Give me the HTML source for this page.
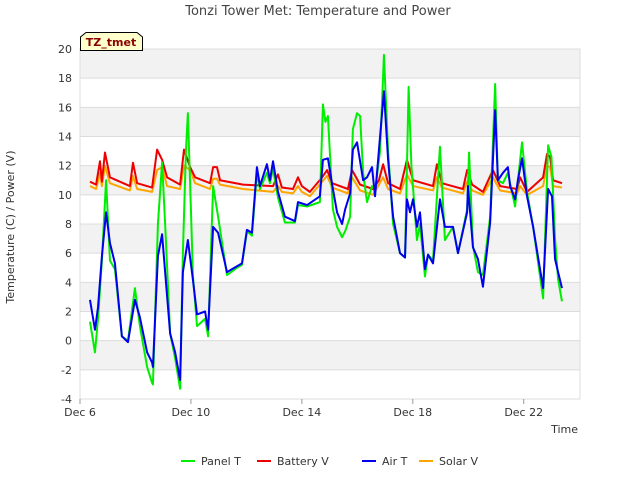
<!DOCTYPE html>
<html><head><meta charset="utf-8"><style>
body{margin:0;background:#fff;font-family:"Liberation Sans","DejaVu Sans",sans-serif;}
svg text{font-family:"DejaVu Sans","Liberation Sans",sans-serif;}
</style></head><body>
<svg id="chart" width="640" height="480" xmlns="http://www.w3.org/2000/svg">
<text x="318" y="15" text-anchor="middle" font-size="13" fill="#444">Tonzi Tower Met: Temperature and Power</text>
<g id="bands"></g><g id="grid"></g><g id="axes"></g><g id="series"></g>
<text x="14" y="227" transform="rotate(-90 14 227)" text-anchor="middle" font-size="11" fill="#333">Temperature (C) / Power (V)</text>
<text x="578" y="433" text-anchor="end" font-size="11" fill="#333">Time</text>
<g>
<path d="M80.5,50.5 L80.5,37 L86,32.5 L137,32.5 L142.5,37 L142.5,50.5 Z" fill="#ffffcc" stroke="#000" stroke-width="1"/>
<text x="111" y="46" text-anchor="middle" font-size="11" font-weight="bold" fill="#8b0000">TZ_tmet</text>
</g>
<g id="legend"></g>
</svg>
<script>
const yTicks=[-4,-2,0,2,4,6,8,10,12,14,16,18,20];
const xTickLabels=["Dec 6","Dec 10","Dec 14","Dec 18","Dec 22"];
const xTickDays=[0,4,8,12,16];
const panelT_t=[.36,.54,.65,.79,.94,1.08,1.26,1.51,1.73,1.98,2.16,2.42,2.6,2.63,2.81,2.96,3.07,3.25,3.43,3.61,3.71,3.82,3.89,4.0,4.07,4.22,4.51,4.62,4.8,4.98,5.3,5.66,5.84,6.02,6.2,6.38,6.49,6.74,6.85,6.96,7.14,7.39,7.75,7.86,8.19,8.65,8.76,8.85,8.94,9.12,9.27,9.45,9.56,9.74,9.84,9.99,10.1,10.21,10.35,10.53,10.64,10.82,10.96,11.11,11.29,11.54,11.72,11.85,11.95,12.15,12.26,12.44,12.55,12.73,12.98,13.16,13.45,13.63,13.96,14.03,14.17,14.35,14.53,14.79,14.97,15.07,15.25,15.43,15.69,15.94,16.12,16.34,16.7,16.88,17.0,17.13,17.24,17.38];
const panelT_v=[1.3,-0.8,1.5,5.5,11.0,5.5,4.9,0.3,0.0,3.6,1.0,-1.8,-2.9,-3.0,8.0,12.2,8.0,0.5,-1.2,-3.3,6.0,13.0,15.6,9.0,4.5,1.0,1.5,0.3,10.6,8.5,4.5,5.0,5.2,7.5,7.2,11.5,10.4,11.5,10.8,11.8,9.8,8.1,8.1,9.3,9.2,9.5,16.2,15.0,15.4,9.0,7.8,7.1,7.5,8.5,14.5,15.6,15.4,11.5,9.5,10.6,10.3,13.0,19.6,13.0,8.0,6.0,5.7,17.4,12.0,6.9,8.0,4.4,5.9,5.5,13.3,6.9,7.8,6.0,9.0,12.9,6.5,4.7,4.5,8.5,17.6,11.0,10.8,11.5,9.2,13.6,10.2,7.8,2.9,13.4,12.6,7.0,4.2,2.7];
const airT_t=[.36,.54,.65,.79,.94,1.08,1.26,1.51,1.73,1.98,2.16,2.42,2.6,2.63,2.81,2.96,3.07,3.25,3.43,3.61,3.71,3.89,4.07,4.22,4.51,4.62,4.8,4.98,5.3,5.66,5.84,6.02,6.2,6.38,6.49,6.74,6.85,6.96,7.14,7.39,7.75,7.86,8.19,8.65,8.76,8.94,9.12,9.27,9.45,9.56,9.74,9.84,9.99,10.21,10.35,10.53,10.64,10.82,10.96,11.11,11.29,11.54,11.72,11.79,11.9,12.01,12.15,12.26,12.44,12.55,12.73,12.98,13.16,13.45,13.63,13.96,13.99,14.17,14.35,14.53,14.79,14.97,15.07,15.25,15.43,15.51,15.69,15.79,15.94,16.12,16.34,16.7,16.88,17.02,17.13,17.24,17.38];
const airT_v=[2.8,0.75,2.3,5.8,8.8,6.7,5.3,0.3,-0.1,2.8,1.6,-0.8,-1.5,-1.8,5.8,7.3,4.7,0.5,-0.8,-2.7,4.7,6.9,4.2,1.8,2.0,0.75,7.8,7.4,4.7,5.1,5.3,7.6,7.4,11.9,10.6,12.1,11.0,12.3,10.2,8.5,8.2,9.5,9.3,9.9,12.4,12.5,10.4,8.8,8.0,9.0,10.1,13.1,13.6,11.0,11.2,11.9,9.9,14.0,17.1,12.4,8.5,6.0,5.7,9.7,8.8,9.7,7.8,8.8,4.9,5.9,5.3,9.7,7.8,7.8,6.0,8.8,10.6,6.4,5.6,3.7,8.1,15.8,11.0,11.5,11.9,10.6,9.7,11.0,12.5,9.9,7.8,3.6,10.4,9.9,5.6,4.7,3.6];
const batt_t=[.36,.58,.72,.79,.9,1.08,1.8,1.91,2.06,2.6,2.78,2.96,3.14,3.61,3.75,3.97,4.15,4.69,4.8,4.94,5.05,5.88,6.96,7.14,7.28,7.68,7.86,8.0,8.29,8.73,8.91,9.09,9.66,9.81,10.1,10.57,10.78,10.93,11.11,11.54,11.79,12.01,12.73,12.87,13.05,13.81,13.96,14.14,14.53,14.89,15.15,15.76,15.87,16.12,16.7,16.84,16.95,17.06,17.38];
const batt_v=[10.9,10.7,12.3,10.9,12.9,11.2,10.6,12.2,10.8,10.5,13.1,12.4,11.2,10.7,13.1,11.9,11.2,10.8,11.9,11.9,11.0,10.7,10.6,11.4,10.5,10.4,11.2,10.6,10.2,11.2,11.7,10.8,10.4,11.7,10.7,10.4,11.0,12.1,10.8,10.4,12.4,11.0,10.6,12.1,10.8,10.4,11.7,10.7,10.2,11.7,10.6,10.4,11.2,10.2,11.2,12.8,12.6,11.0,10.8];
const solar_t=batt_t;
const solar_v=[10.6,10.4,11.5,10.6,12.0,10.8,10.3,11.3,10.4,10.2,11.7,11.9,10.6,10.4,12.0,11.7,10.8,10.4,11.1,11.1,10.7,10.4,10.2,10.6,10.2,10.1,10.6,10.2,9.9,10.9,11.3,10.5,10.1,11.2,10.3,10.0,10.7,11.2,10.4,10.1,11.4,10.6,10.3,11.2,10.5,10.1,10.9,10.3,10.0,11.2,10.3,10.1,10.6,10.0,10.6,12.0,11.9,10.6,10.5];

const X0=80,X1=580,Y0=49,Y1=399,XMAX=18.03,YMIN=-4,YMAX=20;
const sx=d=>X0+d*(X1-X0)/XMAX;
const sy=v=>Y1-(v-YMIN)*(Y1-Y0)/(YMAX-YMIN);
const NS="http://www.w3.org/2000/svg";
function mk(tag,attrs,parent){const e=document.createElementNS(NS,tag);for(const k in attrs)e.setAttribute(k,attrs[k]);parent.appendChild(e);return e;}
const bands=document.getElementById('bands'),grid=document.getElementById('grid'),axes=document.getElementById('axes'),series=document.getElementById('series'),legend=document.getElementById('legend');
for(let i=0;i<yTicks.length-1;i++){
  if(i%2===1){const r=mk('rect',{x:X0,y:sy(yTicks[i+1]),width:X1-X0,height:sy(yTicks[i])-sy(yTicks[i+1]),fill:'#f2f2f2'},bands);
  
  }
}
yTicks.forEach(v=>{
  const l=mk('line',{x1:X0,x2:X1,y1:sy(v),y2:sy(v),stroke:'#dcdcdc','stroke-width':1},grid);
  
  
  const t=mk('text',{x:X0-8,y:sy(v)+4,'text-anchor':'end','font-size':11,fill:'#333'},axes);
  t.textContent=v;
  
  
});
mk('rect',{x:X0,y:Y0,width:X1-X0,height:Y1-Y0,fill:'none',stroke:'#ddd'},grid);
xTickDays.forEach((d,i)=>{
  const tk=mk('line',{x1:sx(d),x2:sx(d),y1:Y1,y2:Y1+5,stroke:'#999'},axes);
  
  
  const t=mk('text',{x:sx(d),y:Y1+17,'text-anchor':'middle','font-size':11,fill:'#333'},axes);
  t.textContent=xTickLabels[i];
  
  
});
const defs=[[solar_t,solar_v,'#ffa500','solar-v-line'],[batt_t,batt_v,'#ee0000','battery-v-line'],[panelT_t,panelT_v,'#00ee00','panel-t-line'],[airT_t,airT_v,'#0000ee','air-t-line']];
defs.forEach(([ts,vs,c,n])=>{
  const p=mk('polyline',{points:ts.map((t,i)=>sx(t)+','+sy(vs[i])).join(' '),fill:'none',stroke:c,'stroke-width':2,'stroke-linejoin':'round'},series);
  
  
});
const leg=[['Panel T','#00ee00',181],['Battery V','#ee0000',257],['Air T','#0000ee',362],['Solar V','#ffa500',419]];
leg.forEach(([lab,c,x])=>{
  const g=mk('g',{},legend);
  
  
  mk('line',{x1:x,x2:x+14,y1:461,y2:461,stroke:c,'stroke-width':2},g);
  const t=mk('text',{x:x+20,y:465,'font-size':11,fill:'#333'},g);
  t.textContent=lab;
});
</script>
</body></html>
